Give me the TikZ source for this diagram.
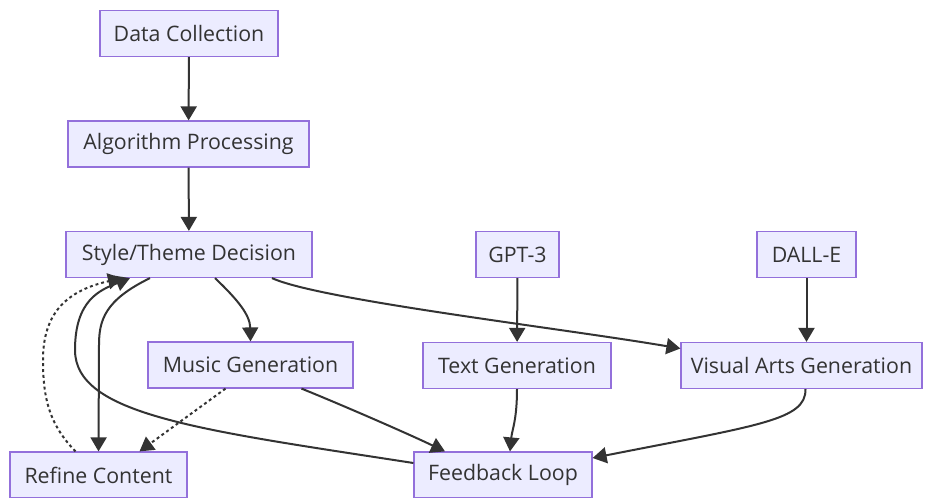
\documentclass[tikz,border=0pt]{standalone}
\usepackage{fontspec}
\setmainfont{Open Sans}
\usetikzlibrary{arrows.meta,calc}
\definecolor{nodefill}{HTML}{ECECFF}
\definecolor{nodeborder}{HTML}{9370DB}
\definecolor{edgecol}{HTML}{333333}
\begin{document}
\begin{tikzpicture}[x=0.75pt,y=-0.75pt,
  box/.style={draw=nodeborder,fill=nodefill,line width=0.9pt,inner sep=0pt,text=edgecol,
    font=\fontsize{16}{19}\selectfont,minimum height=34.5pt},
  bw/.style={minimum width=#1*0.75pt},
  link/.style={draw=edgecol,line width=1.5pt,-{Triangle[length=10.5pt,width=12pt]}},
  dotlink/.style={link,dash pattern=on 2.2pt off 2.2pt}]
\useasboundingbox (0,0) rectangle (926,497);
\fill[white] (0,0) rectangle (926,497);
\node[box,bw=178] (dc) at (189,33.5) {Data Collection};
\node[box,bw=241] (ap) at (188.5,144) {Algorithm Processing};
\node[box,bw=246] (std) at (189,254.5) {Style/Theme Decision};
\node[box,bw=83] (gpt) at (517.5,254.5) {GPT-3};
\node[box,bw=99] (dalle) at (806.5,254.5) {DALL-E};
\node[box,bw=205] (mg) at (250.5,365) {Music Generation};
\node[box,bw=188] (tg) at (517,365.5) {Text Generation};
\node[box,bw=241] (vag) at (801.5,365.5) {Visual Arts Generation};
\node[box,bw=177] (rc) at (98.5,475) {Refine Content};
\node[box,bw=178] (fl) at (503,475) {Feedback Loop};

\draw[link] (dc) -- (ap);
\draw[link] (ap) -- (std);
\draw[link] (gpt) -- (tg);
\draw[link] (dalle.south) -- (vag.north -| dalle.south);
\draw[link] ($(std.south)+(26,0)$) .. controls (238,300) and (250,315) .. (mg.north);
\draw[link] ($(std.south)+(83,0)$) .. controls (320,300) and (560,328) .. ($(vag.west)+(0,-17)$);
\draw[link] ($(std.south)+(-39,0)$) .. controls (105,300) and (99,320) .. (99,345) -- (rc.north);
\draw[link] (tg.south) .. controls (517,420) and (512,430) .. ($(fl.north)+(7,0)$);
\draw[link] ($(vag.south)+(4,0)$) .. controls (806,420) and (760,425) .. ($(fl.east)+(0,-17)$);
\draw[link] ($(mg.south)+(51,0)$) .. controls (330,400) and (400,430) .. ($(fl.north)+(-58,0)$);
\draw[dotlink] ($(mg.south)+(-25,0)$) -- ($(rc.north)+(41,0)$);
\draw[dotlink] ($(rc.north)+(-23,0)$) .. controls (50,425) and (43,400) .. (43,360) .. controls (43,310) and (70,290) .. ($(std.south)+(-67,0)$);
\draw[link] ($(fl.west)+(0,-12)$) .. controls (200,430) and (75,415) .. (75,350) .. controls (75,300) and (100,290) .. ($(std.south)+(-59,0)$);
\end{tikzpicture}
\end{document}
